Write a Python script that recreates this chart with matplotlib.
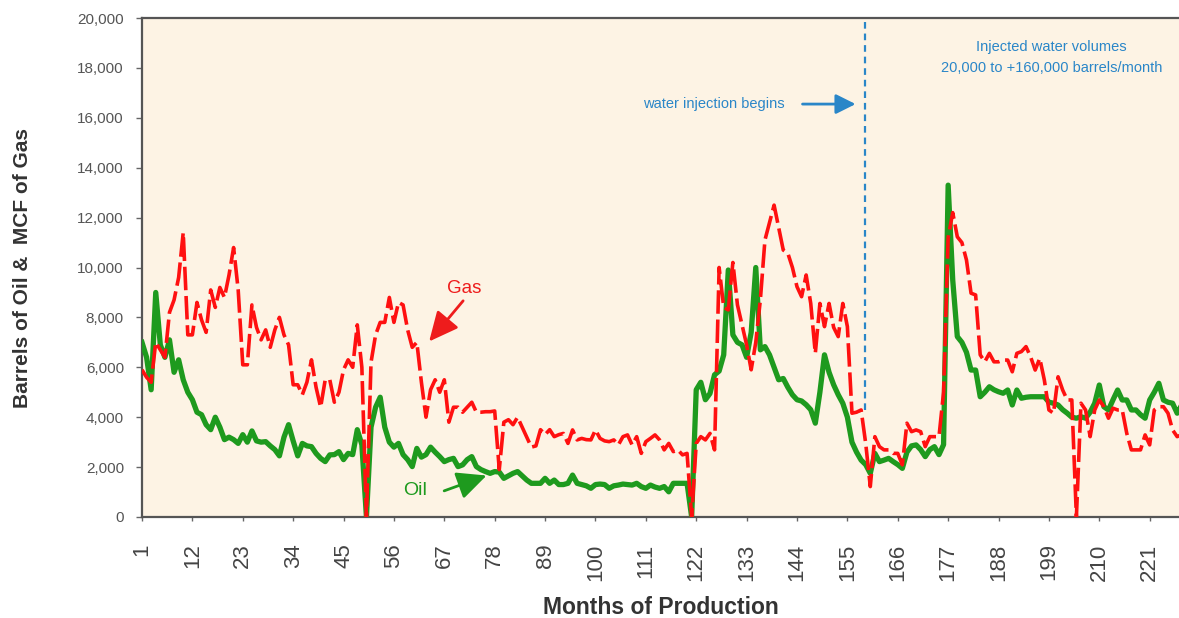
import matplotlib
matplotlib.use("Agg")
import matplotlib.pyplot as plt
import numpy as np

plt.rcParams['font.family'] = ['Liberation Sans', 'DejaVu Sans']

oil = [
    7000, 6400, 5100, 9000, 6900, 6400, 7100, 5800, 6300, 5500,
    5000, 4700, 4200, 4100, 3700, 3500, 4000, 3600, 3100, 3200,
    3100, 2950, 3300, 3000, 3450, 3050, 3000, 3020, 2850, 2700,
    2450, 3200, 3700, 3050, 2450, 2950, 2850, 2820, 2550, 2350,
    2220, 2490, 2500, 2620, 2300, 2550, 2500, 3500, 2900, 0,
    3600, 4400, 4800, 3600, 3000, 2800, 2950, 2500, 2300, 2020,
    2750, 2400, 2500, 2800, 2600, 2420, 2220, 2300, 2350, 2020,
    2090, 2300, 2420, 2020, 1900, 1820, 1750, 1820, 1800, 1550,
    1650, 1750, 1820, 1650, 1480, 1350, 1350, 1350, 1550, 1350,
    1480, 1300, 1300, 1350, 1680, 1350, 1300, 1250, 1150, 1300,
    1320, 1300, 1150, 1250, 1280, 1320, 1300, 1280, 1350, 1220,
    1150, 1280, 1200, 1150, 1220, 1010, 1350, 1350, 1350, 1350,
    0, 5100, 5400, 4700, 4950, 5700, 5850, 6500, 9900, 7300,
    7000, 6900, 6400, 7400, 10000, 6700, 6830, 6500, 6000, 5500,
    5550, 5200, 4900, 4700, 4650, 4500, 4300, 3760, 5000, 6500,
    5800, 5300, 4900, 4560, 4000, 3000, 2600, 2280, 2100, 1750,
    2550, 2220, 2280, 2350, 2220, 2100, 1950, 2600, 2850, 2890,
    2700, 2420, 2700, 2820, 2500, 2900, 13300, 9500, 7230, 7000,
    6600, 5890, 5890, 4820, 5000, 5220, 5100, 5020, 4960, 5090,
    4490, 5090, 4760, 4800, 4820, 4820, 4820, 4820, 4600, 4560,
    4490, 4300, 4160, 4000, 3960, 4020, 3960, 4200, 4560, 5290,
    4420, 4290, 4700, 5090, 4690, 4690, 4290, 4290, 4100, 3960,
    4690, 5000, 5360, 4690, 4600, 4560, 4160, 4490,
]

gas = [
    5900, 5600, 5400, 7000, 6700, 6400, 8200, 8700, 9600, 11400,
    7300, 7300, 8600, 7900, 7400, 9100, 8400, 9200, 8800, 9700,
    10800, 9100, 6100, 6100, 8500, 7600, 7100, 7500, 6800, 7500,
    8000, 7300, 6900, 5300, 5300, 4900, 5400, 6300, 5200, 4400,
    5500, 5500, 4600, 5000, 5900, 6300, 6000, 7700, 6000, 0,
    6200, 7300, 7800, 7800, 8800, 7800, 8600, 8500, 7500, 6800,
    7000, 5400, 4000, 5100, 5500, 5000, 5500, 3800, 4400, 4400,
    4200, 4400, 4600, 4200, 4200, 4220, 4220, 4250, 1900, 3800,
    3900, 3700, 4000, 3600, 3200, 2800, 2850, 3500, 3300, 3500,
    3220, 3300, 3350, 2950, 3490, 3090, 3150, 3100, 3090, 3490,
    3150, 3050, 3020, 3090, 2890, 3220, 3290, 2890, 3220, 2550,
    3020, 3150, 3290, 3090, 2690, 2950, 2620, 2690, 2490, 2550,
    0, 2950, 3220, 3090, 3350, 2690, 10000, 8400, 8300, 10200,
    8500, 7700, 6900, 5900, 7000, 8700, 11100, 11800, 12500, 11600,
    10700, 10570, 10000, 9230, 8830, 9700, 8560, 6560, 8560, 7630,
    8560, 7600, 7230, 8560, 7630, 4160, 4200, 4290, 2950, 1220,
    3220, 2820, 2690, 2690, 2550, 2550, 2090, 3760, 3420, 3490,
    3420, 2820, 3220, 3220, 3220, 5000, 11200, 12200, 11230, 11000,
    10300, 8970, 8900, 6500, 6220, 6560, 6220, 6220, 6290, 6290,
    5820, 6560, 6630, 6830, 6420, 5890, 6360, 5490, 4290, 4160,
    5620, 5090, 4690, 4690, 0, 4560, 4290, 3220, 4290, 4690,
    4420, 3960, 4360, 4290, 4300, 3350, 2690, 2690, 2690, 3290,
    2890, 4290, 4420, 4420, 4160, 3490, 3220, 3300,
]

months = np.arange(1, len(oil) + 1)
xtick_labels = list(range(1, 222, 11))
ytick_values = list(range(0, 20001, 2000))
injection_month = 158.9

fig = plt.figure(figsize=(11.79, 6.18), dpi=100)
fig.patch.set_facecolor('white')
ax = fig.add_axes([142/1179, 101/618, 1037/1179, 499/618])
ax.set_facecolor('#fdf3e4')

ax.plot(months, oil, color='#1e9a1e', lw=3.8, solid_joinstyle='round', zorder=3)
ax.plot(months[:len(gas)], gas, color='#ff1010', lw=2.6, linestyle=(0, (6.5, 1.6)), zorder=4)

ax.set_xlim(1, 227.4)
ax.set_ylim(0, 20000)

ax.set_yticks(ytick_values)
ax.set_yticklabels([f"{v:,}" for v in ytick_values], fontsize=11, color='#555555')
ax.set_xticks(xtick_labels)
ax.set_xticklabels([str(v) for v in xtick_labels], rotation=90, fontsize=16,
                   color='#444444', va='top')
ax.tick_params(axis='y', length=4, width=1, color='#666666', pad=9)
ax.tick_params(axis='x', length=3, width=1, color='#666666', pad=16)

for s in ['left', 'top', 'bottom']:
    ax.spines[s].set_color('#555555')
    ax.spines[s].set_linewidth(1.6)
ax.spines['right'].set_visible(False)

ax.set_xlabel('Months of Production', fontsize=16.5, fontweight='bold', color='#333333', labelpad=11)
ax.set_ylabel('Barrels of Oil &  MCF of Gas', fontsize=15, fontweight='bold', color='#333333')
ax.yaxis.set_label_coords(-0.106, 0.5)

blue = '#2a86c8'
ax.plot([injection_month, injection_month], [4300, 20000], color=blue, lw=1.6,
        linestyle=(0, (3, 2.2)), zorder=5, clip_on=False)
ax.annotate('', xy=(157.4, 16550), xytext=(144.6, 16550),
            arrowprops=dict(arrowstyle='-|>,head_length=1.2,head_width=0.6', color=blue, lw=2))
ax.text(141.4, 16550, 'water injection begins', color=blue, fontsize=10.5, ha='right', va='center')
ax.text(199.5, 18840, 'Injected water volumes', color=blue, fontsize=10.5, ha='center', va='center')
ax.text(199.5, 18000, '20,000 to +160,000 barrels/month', color=blue, fontsize=10.5, ha='center', va='center')

ax.text(71.3, 9150, 'Gas', color='#ee1c1c', fontsize=13.5, ha='center', va='center')
ax.annotate('', xy=(63.3, 6950), xytext=(71.5, 8750),
            arrowprops=dict(arrowstyle='-|>,head_length=1.8,head_width=0.85', color='#ee1c1c', lw=2))
ax.text(60.6, 1080, 'Oil', color='#1e9a1e', fontsize=14, ha='center', va='center')
ax.annotate('', xy=(76.8, 1700), xytext=(66.4, 1010),
            arrowprops=dict(arrowstyle='-|>,head_length=1.8,head_width=0.85', color='#1e9a1e', lw=2))

fig.savefig('out.png', dpi=100, facecolor='white')
